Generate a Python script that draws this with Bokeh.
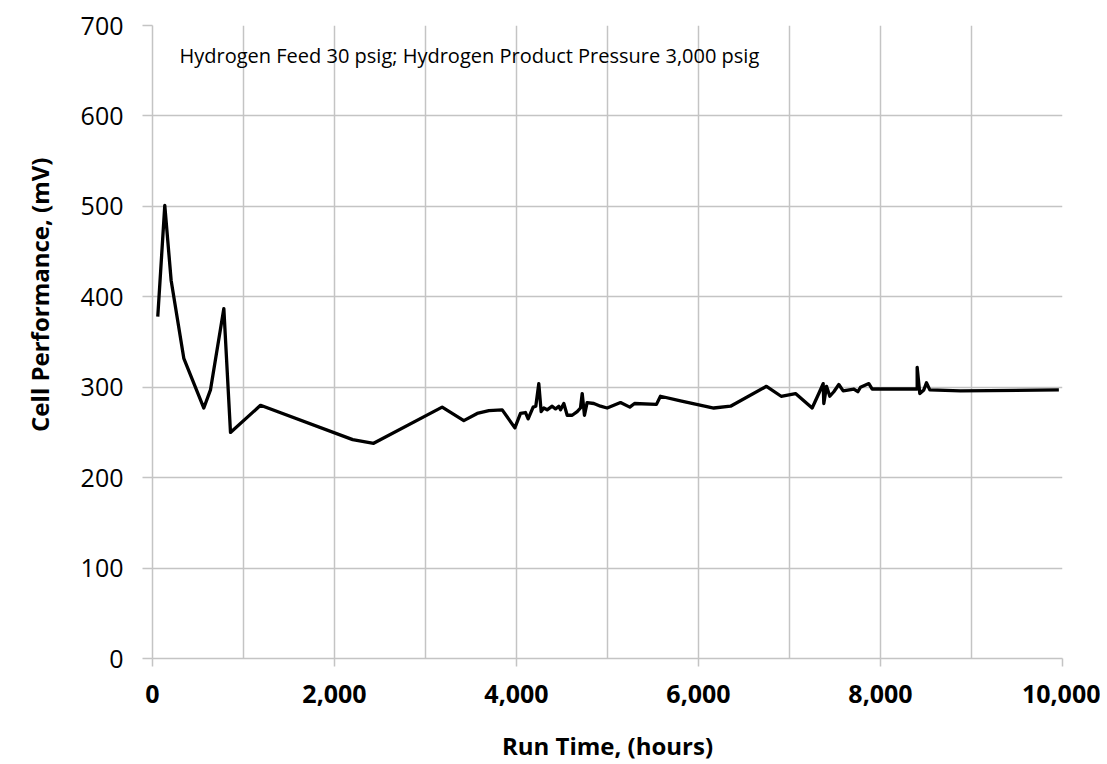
from bokeh.plotting import figure
from bokeh.models import FixedTicker, Label, Range1d, NumeralTickFormatter, Title
from bokeh.embed import file_html
from bokeh.resources import INLINE

run_time_hours = [58, 135, 205, 344, 564, 637, 784, 857, 1187, 2200,
                  2430, 3183, 3421, 3568, 3696, 3843, 3982, 4044, 4099, 4128,
                  4183, 4212, 4245, 4271, 4300, 4337, 4392, 4429, 4465, 4484,
                  4520, 4557, 4612, 4667, 4703, 4722, 4747, 4776, 4850, 4923,
                  4996, 5143, 5245, 5297, 5538, 5582, 5802, 6168, 6352, 6747,
                  6908, 7066, 7249, 7322, 7370, 7377, 7407, 7443, 7487, 7542,
                  7590, 7707, 7751, 7780, 7872, 7909, 8403, 8403, 8432, 8476,
                  8505, 8542, 8879, 9960]
cell_mv = [378, 501, 418, 332, 277, 297, 387, 250, 280, 242,
           238, 278, 263, 271, 274, 275, 255, 271, 272, 265,
           278, 279, 304, 273, 277, 275, 279, 276, 279, 275,
           282, 269, 269, 273, 277, 293, 269, 283, 282, 279,
           277, 283, 278, 282, 281, 290, 285, 277, 279, 301,
           290, 293, 277, 293, 304, 282, 301, 290, 295, 303,
           296, 298, 295, 300, 304, 298, 298, 322, 293, 297,
           305, 297, 296, 297]

x_major = [0, 2000, 4000, 6000, 8000, 10000]
x_minor = [1000, 3000, 5000, 7000, 9000]
y_major = [0, 100, 200, 300, 400, 500, 600, 700]
annotation = "Hydrogen Feed 30 psig; Hydrogen Product Pressure 3,000 psig"
x_title = "Run Time, (hours)"
y_title = "Cell Performance, (mV)"

FONT = "Open Sans"
GRID = "#c4c4c4"

p = figure(width=1100, height=764, output_backend="svg", toolbar_location=None,
           x_range=Range1d(0, 10000), y_range=Range1d(0, 700),
           min_border_left=152, min_border_right=38, min_border_top=25,
           min_border_bottom=105)
p.outline_line_color = None
p.background_fill_color = "white"

p.line(run_time_hours, cell_mv, line_color="black", line_width=3.3, line_join="round")

# x axis
p.xaxis.ticker = FixedTicker(ticks=x_major, minor_ticks=x_minor)
p.xaxis.formatter = NumeralTickFormatter(format="0,0")
p.xaxis.major_label_text_font = FONT
p.xaxis.major_label_text_font_style = "bold"
p.xaxis.major_label_text_font_size = "25px"
p.xaxis.major_label_text_color = "black"
p.xaxis.major_label_standoff = 18
p.xaxis.axis_line_color = GRID
p.xaxis.axis_line_width = 1.5
p.xaxis.major_tick_line_color = GRID
p.xaxis.major_tick_line_width = 1.5
p.xaxis.major_tick_out = 8
p.xaxis.major_tick_in = 0
p.xaxis.minor_tick_line_color = None
p.xaxis.axis_label = x_title
p.xaxis.axis_label_text_font = FONT
p.xaxis.axis_label_text_font_style = "bold"
p.xaxis.axis_label_text_font_size = "24px"
p.xaxis.axis_label_text_line_height = 1.0
p.xaxis.axis_label_text_color = "black"
p.xaxis.axis_label_standoff = 23

# y axis
p.yaxis.ticker = FixedTicker(ticks=y_major)
p.yaxis.major_label_text_font = FONT
p.yaxis.major_label_text_font_size = "25px"
p.yaxis.major_label_text_color = "black"
p.yaxis.major_label_standoff = 19
p.yaxis.axis_line_color = GRID
p.yaxis.axis_line_width = 1.5
p.yaxis.major_tick_line_color = GRID
p.yaxis.major_tick_line_width = 1.5
p.yaxis.major_tick_out = 10
p.yaxis.major_tick_in = 0
p.yaxis.minor_tick_line_color = None

# grids
p.xgrid.ticker = FixedTicker(ticks=x_major, minor_ticks=x_minor)
p.xgrid.grid_line_color = GRID
p.xgrid.grid_line_width = 1.5
p.xgrid.minor_grid_line_color = GRID
p.xgrid.minor_grid_line_width = 1.5
p.ygrid.grid_line_color = GRID
p.ygrid.grid_line_width = 1.5

p.add_layout(Label(x=297, y=667, text=annotation, text_font=FONT,
                   text_font_size="20px", text_color="black",
                   text_baseline="middle", text_align="left"))

p.add_layout(Title(text=y_title, align="right", offset=132, vertical_align="middle",
                   standoff=42, text_font=FONT, text_font_style="bold",
                   text_font_size="24px", text_line_height=1.0,
                   text_color="black"), "left")

open("out.html", "w").write(file_html(p, INLINE))
